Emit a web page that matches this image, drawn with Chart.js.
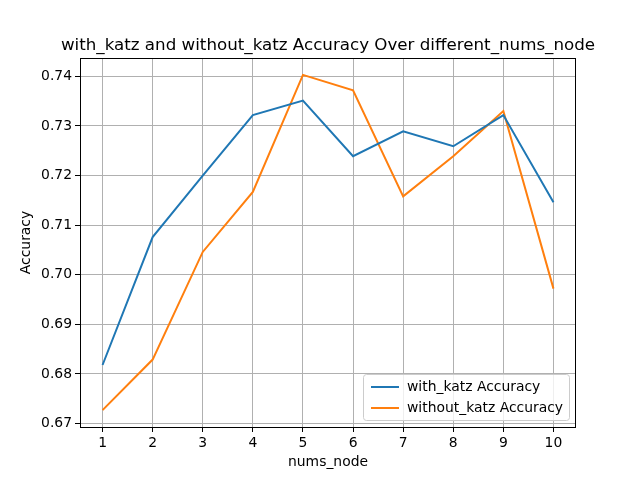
<!DOCTYPE html>
<html>
<head>
<meta charset="utf-8">
<script src="https://cdn.jsdelivr.net/npm/chart.js@4"></script>
<style>
  html, body { margin: 0; padding: 0; background: #fff; }
  #wrap { width: 640px; height: 480px; }
</style>
</head>
<body>
<div id="wrap"><canvas id="accChart" width="640" height="480"></canvas></div>
<script>
// values
const numsNode = [1, 2, 3, 4, 5, 6, 7, 8, 9, 10];
const withKatz = [0.6818, 0.7076, 0.7200, 0.7322, 0.7351, 0.7239, 0.7289, 0.7259, 0.7322, 0.7146];
const withoutKatz = [0.6727, 0.6829, 0.7046, 0.7167, 0.7403, 0.7372, 0.7158, 0.7239, 0.7330, 0.6972];
const yTicks = [0.67, 0.68, 0.69, 0.70, 0.71, 0.72, 0.73, 0.74];
const titleText = 'with_katz and without_katz Accuracy Over different_nums_node';

const FONT = 'DejaVu Sans';

function toPoints(xs, ys) {
    return xs.map((x, i) => ({ x: x, y: ys[i] }));
}

// title, frame and legend drawn the matplotlib way
const decorations = {
    id: 'decorations',
    afterDraw(chart) {
        const ctx = chart.ctx;
        const a = chart.chartArea;
        ctx.save();
        // frame
        ctx.strokeStyle = '#000';
        ctx.lineWidth = 1;
        ctx.strokeRect(a.left + 0.5, a.top + 0.5, a.right - a.left - 1, a.bottom - a.top);

        // title
        ctx.fillStyle = '#000';
        ctx.font = '16.7px "' + FONT + '"';
        ctx.textAlign = 'center';
        ctx.textBaseline = 'alphabetic';
        ctx.fillText(titleText, (a.left + a.right) / 2, 50);

        // legend box, lower right
        const ds = chart.data.datasets;
        const bw = 206, bh = 46;
        const bx = a.right - 7 - bw, by = a.bottom - 7 - bh;
        ctx.fillStyle = 'rgba(255,255,255,0.8)';
        ctx.strokeStyle = '#cccccc';
        ctx.lineWidth = 1;
        ctx.beginPath();
        ctx.roundRect(bx + 0.5, by + 0.5, bw, bh, 3);
        ctx.fill();
        ctx.stroke();
        ctx.font = '13.9px "' + FONT + '"';
        ctx.textAlign = 'left';
        ctx.textBaseline = 'middle';
        ds.forEach((d, i) => {
            const ly = by + 13 + i * 21;
            ctx.strokeStyle = d.borderColor;
            ctx.lineWidth = 2;
            ctx.beginPath();
            ctx.moveTo(bx + 8, ly);
            ctx.lineTo(bx + 36, ly);
            ctx.stroke();
            ctx.fillStyle = '#000';
            ctx.fillText(d.label, bx + 44, ly);
        });
        ctx.restore();
    }
};

new Chart(document.getElementById('accChart'), {
    type: 'line',
    data: {
        datasets: [{
            label: 'with_katz Accuracy',
            data: toPoints(numsNode, withKatz),
            borderColor: '#1f77b4',
            backgroundColor: '#1f77b4',
            borderWidth: 2,
            pointRadius: 0,
            tension: 0
        }, {
            label: 'without_katz Accuracy',
            data: toPoints(numsNode, withoutKatz),
            borderColor: '#ff7f0e',
            backgroundColor: '#ff7f0e',
            borderWidth: 2,
            pointRadius: 0,
            tension: 0
        }]
    },
    options: {
        responsive: false,
        animation: false,
        layout: { padding: { left: 0, right: 64, top: 58, bottom: 0 } },
        plugins: {
            legend: { display: false },
            title: { display: false },
            tooltip: { enabled: false }
        },
        scales: {
            x: {
                type: 'linear',
                min: 0.55,
                max: 10.45,
                afterBuildTicks: axis => { axis.ticks = numsNode.map(v => ({ value: v })); },
                afterFit: axis => { axis.height = 53; },
                grid: { color: '#b0b0b0', lineWidth: 1, tickColor: '#000', tickLength: 5 },
                border: { display: false },
                ticks: {
                    color: '#000',
                    font: { family: FONT, size: 13.9 },
                    padding: 3,
                    maxRotation: 0
                },
                title: {
                    display: true,
                    text: 'nums_node',
                    color: '#000',
                    font: { family: FONT, size: 13.9 },
                    padding: { top: 2, bottom: 9 }
                }
            },
            y: {
                type: 'linear',
                min: 0.6693,
                max: 0.7437,
                afterBuildTicks: axis => { axis.ticks = yTicks.map(v => ({ value: v })); },
                afterFit: axis => { axis.width = 80; },
                grid: { color: '#b0b0b0', lineWidth: 1, tickColor: '#000', tickLength: 5 },
                border: { display: false },
                ticks: {
                    color: '#000',
                    font: { family: FONT, size: 13.9 },
                    padding: 3,
                    callback: v => v.toFixed(2)
                },
                title: {
                    display: true,
                    text: 'Accuracy',
                    color: '#000',
                    font: { family: FONT, size: 13.9 },
                    padding: { top: 18, bottom: 0 }
                }
            }
        }
    },
    plugins: [decorations]
});
</script>
</body>
</html>
